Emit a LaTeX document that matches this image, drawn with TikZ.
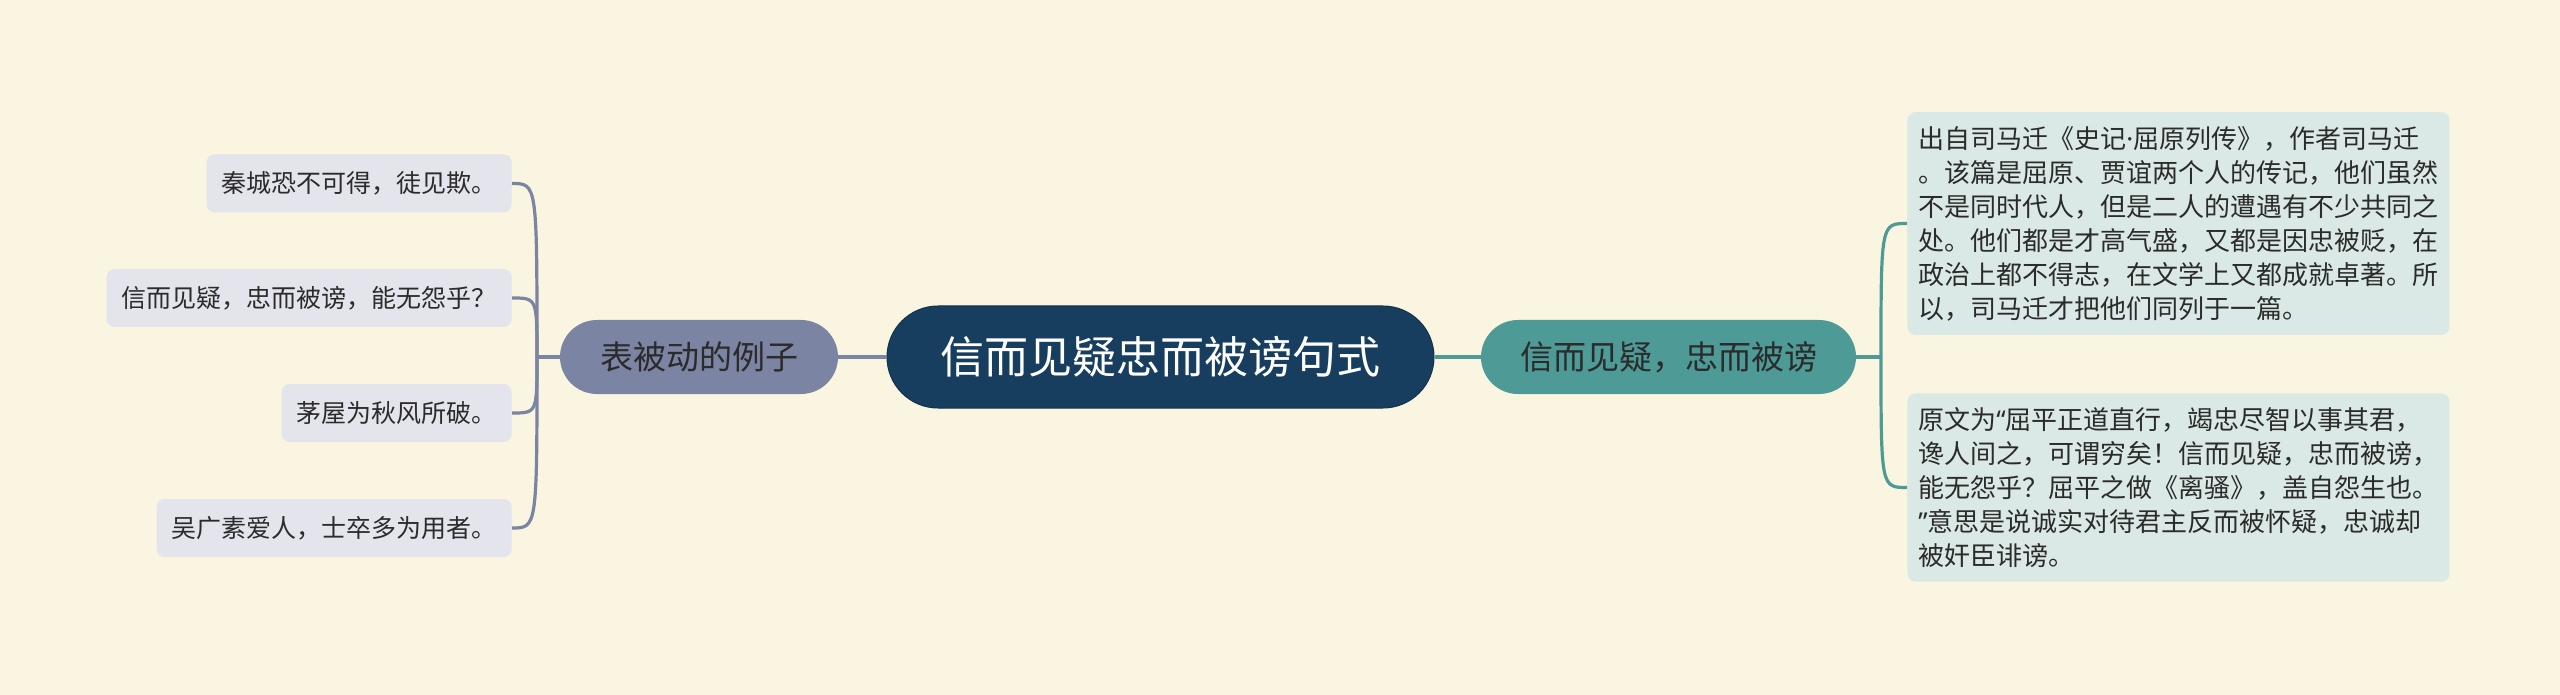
\documentclass[tikz,border=0pt]{standalone}
\usepackage{fontspec}
\setmainfont{Noto Sans CJK SC}
\newfontfamily\latinfont{Noto Sans}

\definecolor{bgcream}{HTML}{FAF5E0}
\definecolor{rootblue}{HTML}{173E5E}
\definecolor{leftgray}{HTML}{7B84A2}
\definecolor{rightteal}{HTML}{4E9A97}
\definecolor{leftleaf}{HTML}{E3E4EC}
\definecolor{rightleaf}{HTML}{DAE9E5}
\definecolor{inktext}{HTML}{2B2B2B}

\tikzset{
  root/.style={fill=rootblue, draw=rootblue!80!black, line width=0.5pt,
    rounded corners=25.5pt, minimum width=273.5pt, minimum height=51pt,
    text=white, font=\fontsize{22pt}{26pt}\selectfont},
  topic/.style={rounded corners=18.5pt, minimum height=37pt, inner xsep=0pt,
    text=inktext, font=\fontsize{16.5pt}{20pt}\selectfont},
  leafl/.style={fill=leftleaf, rounded corners=4pt, minimum height=29pt,
    inner xsep=7.5pt, text=inktext, anchor=east,
    font=\fontsize{12.5pt}{15pt}\selectfont},
  leafr/.style={fill=rightleaf, rounded corners=4pt, text width=260pt,
    inner xsep=5.5pt, inner ysep=7pt, align=left, text=inktext, anchor=west,
    font=\fontsize{13pt}{17pt}\selectfont},
  linkl/.style={draw=leftgray, line width=1.6pt},
  linkr/.style={draw=rightteal, line width=1.6pt}
}

\begin{document}
\begin{tikzpicture}[x=0.5pt,y=-0.5pt]

\fill[bgcream] (0,0) rectangle (2560,695);
\useasboundingbox (0,0) rectangle (2560,695);

\node[root] (main) at (1160.5,357) {信而见疑忠而被谤句式};
\node[topic, fill=leftgray, minimum width=139pt] (passive) at (699,357) {表被动的例子};
\node[topic, fill=rightteal, minimum width=187.5pt] (source) at (1668.5,357) {信而见疑，忠而被谤};

\node[leafl] (qin) at (512,183.5) {秦城恐不可得，徒见欺。};
\node[leafl] (xin) at (512,298) {信而见疑，忠而被谤，能无怨乎？};
\node[leafl] (mao) at (512,413) {茅屋为秋风所破。};
\node[leafl] (wu) at (512,528) {吴广素爱人，士卒多为用者。};

\node[leafr] (shiji) at (1907,223.5) {出自司马迁《史记{\latinfont ·}屈原列传》，作者司马迁\\
。该篇是屈原、贾谊两个人的传记，他们虽然\\
不是同时代人，但是二人的遭遇有不少共同之\\
处。他们都是才高气盛，又都是因忠被贬，在\\
政治上都不得志，在文学上又都成就卓著。所\\
以，司马迁才把他们同列于一篇。};
\node[leafr] (yuanwen) at (1907,487.5) {原文为{\latinfont “}屈平正道直行，竭忠尽智以事其君，\\
谗人间之，可谓穷矣！信而见疑，忠而被谤，\\
能无怨乎？屈平之做《离骚》，盖自怨生也。\\
{\latinfont ”}意思是说诚实对待君主反而被怀疑，忠诚却\\
被奸臣诽谤。};

\coordinate (jl) at (537,357);
\coordinate (jr) at (1881,357);

\draw[linkl, line width=2pt] (passive.east) -- (main.west);
\draw[linkr, line width=2pt] (main.east) -- (source.west);
\draw[linkl] (passive.west) -- (jl);
\draw[linkr] (source.east) -- (jr);

\foreach \leaf in {qin,xin,mao,wu}
  \draw[linkl] (\leaf.east) .. controls (jl |- \leaf.east) .. (jl);
\foreach \leaf in {shiji,yuanwen}
  \draw[linkr] (jr) .. controls (jr |- \leaf.west) .. (\leaf.west);

\end{tikzpicture}
\end{document}
